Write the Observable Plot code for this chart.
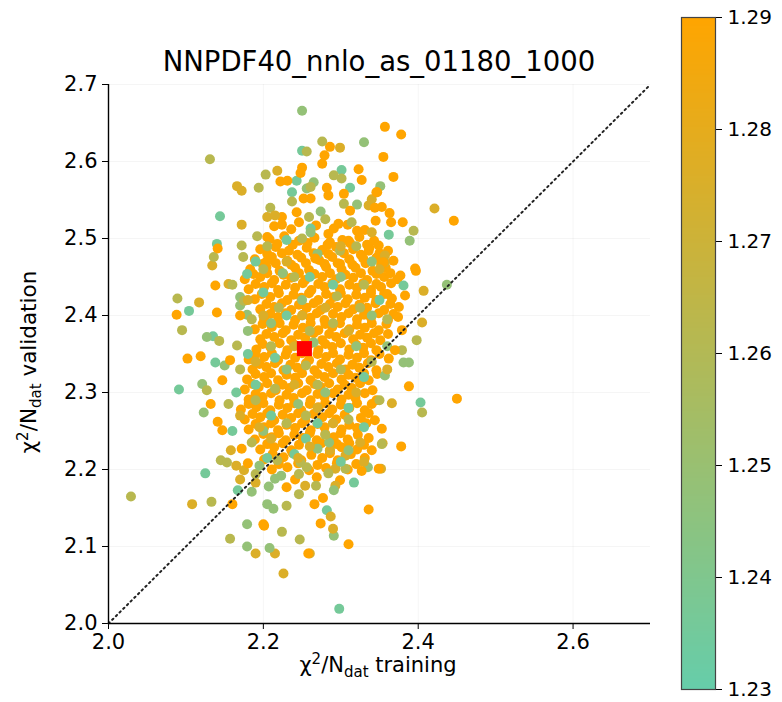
<!DOCTYPE html>
<html><head><meta charset="utf-8">
<script src="https://cdn.jsdelivr.net/npm/d3@7"></script>
<script src="https://cdn.jsdelivr.net/npm/@observablehq/plot@0.6"></script>
<style>
body{margin:0;background:#fff;}
#fig{position:relative;width:782px;height:702px;font-family:"DejaVu Sans",sans-serif;background:#fff;}
#main{position:absolute;left:0;top:0;}
#cbar{position:absolute;left:670px;top:0;}
</style></head><body><div id="fig"><div id="main"></div><div id="cbar"></div></div>
<script>
const title = "NNPDF40_nnlo_as_01180_1000";
const xLabelParts = ["χ", "2", "/N", "dat", " training"];
const yLabelParts = ["χ", "2", "/N", "dat", " validation"];
const xTicks = [2.0, 2.2, 2.4, 2.6];
const yTicks = [2.0, 2.1, 2.2, 2.3, 2.4, 2.5, 2.6, 2.7];
const colorTicks = [1.23, 1.24, 1.25, 1.26, 1.27, 1.28, 1.29];
const colorDomain = [1.23, 1.29];
const diagonal = [2.0, 2.7];
const meanPoint = [2.253, 2.357];
// colour value of each group (order: teal, green, olive, gold, orange)
const colorLevels = [1.236, 1.248, 1.262, 1.276, 1.292];

const tealPts = [
[2.250,2.614],[2.301,2.589],[2.243,2.575],[2.237,2.560],[2.312,2.566],[2.261,2.513],[2.144,2.529],[2.140,2.493],
[2.179,2.454],[2.230,2.498],[2.362,2.505],[2.104,2.406],[2.135,2.373],[2.138,2.339],[2.091,2.304],[2.125,2.195],
[2.167,2.173],[2.317,2.183],[2.282,2.147],[2.298,2.019],[2.403,2.287],[2.381,2.439],
[2.200,2.430],[2.230,2.400],[2.180,2.350],[2.210,2.270],[2.330,2.320],[2.270,2.260],[2.240,2.220],[2.190,2.310],
[2.350,2.420],[2.160,2.250],[2.290,2.440],[2.310,2.280],[2.260,2.450],[2.205,2.215],[2.255,2.240],[2.300,2.210],
[2.330,2.255],[2.165,2.300],[2.190,2.470],[2.215,2.345]
];
const greenPts = [
[2.250,2.666],[2.330,2.625],[2.265,2.573],[2.256,2.565],[2.274,2.535],[2.321,2.544],[2.351,2.568],[2.261,2.508],
[2.389,2.497],[2.437,2.440],[2.381,2.339],[2.388,2.339],[2.357,2.322],[2.291,2.114],[2.179,2.129],[2.179,2.100],
[2.205,2.155],[2.213,2.149],[2.207,2.178],[2.215,2.188],[2.223,2.192],[2.185,2.171],[2.291,2.173],[2.335,2.203],
[2.127,2.372],[2.121,2.311],[2.179,2.401],[2.170,2.424],[2.170,2.413],[2.123,2.274],[2.270,2.227],[2.208,2.098],
[2.210,2.390],[2.250,2.420],[2.280,2.300],[2.320,2.360],[2.200,2.250],[2.340,2.400],[2.270,2.480],[2.230,2.330],
[2.300,2.450],[2.180,2.380],[2.360,2.360],[2.245,2.285],[2.310,2.225],[2.195,2.205],[2.285,2.235],[2.150,2.335],
[2.340,2.470],[2.225,2.455],[2.265,2.365]
];
const olivePts = [
[2.131,2.603],[2.276,2.626],[2.256,2.613],[2.203,2.583],[2.194,2.566],[2.261,2.567],[2.291,2.582],[2.301,2.578],
[2.237,2.548],[2.304,2.545],[2.209,2.540],[2.259,2.528],[2.280,2.525],[2.192,2.503],[2.172,2.491],[2.136,2.476],
[2.174,2.476],[2.314,2.521],[2.394,2.510],[2.299,2.484],[2.398,2.368],[2.379,2.355],[2.405,2.274],[2.306,2.201],
[2.284,2.195],[2.268,2.179],[2.246,2.168],[2.230,2.153],[2.224,2.119],[2.247,2.109],[2.157,2.110],[2.133,2.158],
[2.145,2.212],[2.153,2.209],[2.029,2.165],[2.089,2.422],[2.095,2.381],[2.143,2.367],[2.127,2.303],[2.166,2.361],
[2.175,2.419],[2.190,2.194],[2.246,2.194],[2.248,2.209],[2.256,2.203],[2.218,2.212],[2.353,2.233],
[2.220,2.410],[2.260,2.380],[2.300,2.330],[2.190,2.290],[2.240,2.450],[2.330,2.440],[2.270,2.310],[2.210,2.360],
[2.350,2.290],[2.170,2.330],[2.230,2.260],[2.290,2.390],[2.320,2.490],[2.250,2.500],[2.200,2.460],[2.160,2.440],
[2.340,2.340],[2.280,2.245],[2.310,2.265],[2.185,2.235],[2.215,2.305],[2.255,2.335],[2.295,2.425],[2.360,2.395],
[2.325,2.410],[2.185,2.395],[2.155,2.285],[2.205,2.490],[2.255,2.270]
];
const goldPts = [
[2.218,2.588],[2.299,2.618],[2.166,2.568],[2.172,2.562],[2.205,2.528],[2.172,2.518],[2.134,2.465],[2.336,2.543],
[2.340,2.551],[2.421,2.539],[2.340,2.508],[2.357,2.478],[2.357,2.469],[2.407,2.432],[2.405,2.391],[2.366,2.286],
[2.354,2.234],[2.352,2.201],[2.306,2.218],[2.293,2.201],[2.286,2.225],[2.293,2.179],[2.287,2.139],[2.290,2.123],
[2.254,2.179],[2.260,2.091],[2.226,2.065],[2.215,2.091],[2.190,2.091],[2.108,2.155],[2.170,2.187],[2.190,2.183],
[2.158,2.225],[2.165,2.205],[2.175,2.199],[2.117,2.417],[2.155,2.441],
[2.200,2.400],[2.240,2.360],[2.280,2.410],[2.320,2.300],[2.260,2.230],[2.190,2.340],[2.310,2.380],[2.350,2.460],
[2.230,2.470],[2.270,2.280],[2.210,2.240],[2.330,2.210],[2.170,2.270],[2.290,2.260],[2.240,2.310],[2.360,2.330],
[2.300,2.490],[2.180,2.420],[2.250,2.400],[2.215,2.530],[2.325,2.235],[2.245,2.215],[2.195,2.255]
];
const orangeSparse = [
[2.286,2.619],[2.279,2.608],[2.276,2.597],[2.250,2.592],[2.248,2.585],[2.222,2.574],[2.231,2.575],[2.323,2.590],
[2.327,2.576],[2.282,2.566],[2.284,2.556],[2.252,2.552],[2.261,2.552],[2.304,2.558],[2.344,2.540],[2.347,2.560],
[2.141,2.487],[2.204,2.470],[2.224,2.528],[2.224,2.518],[2.243,2.534],[2.246,2.521],[2.284,2.506],[2.297,2.519],
[2.205,2.502],[2.357,2.645],[2.378,2.635],[2.355,2.606],[2.368,2.580],[2.346,2.560],[2.353,2.541],[2.363,2.533],
[2.312,2.536],[2.446,2.523],[2.345,2.523],[2.365,2.521],[2.380,2.521],[2.286,2.495],[2.310,2.497],[2.321,2.510],
[2.349,2.491],[2.336,2.484],[2.329,2.474],[2.355,2.469],[2.396,2.461],[2.267,2.474],[2.299,2.467],[2.397,2.458],
[2.377,2.452],[2.383,2.426],[2.360,2.428],[2.366,2.422],[2.375,2.411],[2.379,2.381],[2.370,2.355],[2.362,2.344],
[2.388,2.308],[2.450,2.292],[2.353,2.253],[2.378,2.230],[2.340,2.225],[2.349,2.201],[2.327,2.198],[2.336,2.148],
[2.310,2.103],[2.277,2.163],[2.266,2.155],[2.274,2.130],[2.230,2.177],[2.201,2.127],[2.160,2.155],[2.172,2.227],
[2.180,2.208],[2.088,2.401],[2.102,2.344],[2.119,2.347],[2.138,2.439],[2.140,2.404],[2.170,2.400],[2.157,2.342],
[2.147,2.316],[2.132,2.285],[2.141,2.262],[2.258,2.091],[2.200,2.129],[2.147,2.251]
];
const orangeCore = [
[2.214,2.516],[2.236,2.512],[2.268,2.517],[2.291,2.513],[2.309,2.518],[2.331,2.511],
[2.208,2.499],[2.227,2.503],[2.246,2.497],[2.266,2.501],[2.302,2.498],[2.324,2.502],[2.343,2.497],
[2.196,2.486],[2.216,2.489],[2.233,2.484],[2.256,2.488],[2.276,2.485],[2.294,2.489],[2.316,2.486],[2.337,2.488],[2.361,2.484],
[2.189,2.473],[2.211,2.476],[2.231,2.471],[2.249,2.475],[2.272,2.472],[2.289,2.476],[2.311,2.473],[2.346,2.475],[2.368,2.471],
[2.183,2.460],[2.204,2.463],[2.221,2.458],[2.241,2.462],[2.259,2.459],[2.281,2.463],[2.301,2.460],[2.319,2.462],[2.341,2.458],[2.358,2.462],
[2.176,2.447],[2.196,2.450],[2.214,2.446],[2.236,2.449],[2.254,2.446],[2.276,2.450],[2.294,2.447],[2.316,2.449],[2.334,2.446],[2.356,2.450],[2.373,2.447],
[2.181,2.434],[2.201,2.437],[2.219,2.433],[2.241,2.436],[2.262,2.433],[2.279,2.437],[2.299,2.434],[2.321,2.436],[2.339,2.433],[2.352,2.437],
[2.189,2.421],[2.209,2.424],[2.231,2.420],[2.249,2.423],[2.271,2.420],[2.291,2.424],[2.309,2.421],[2.331,2.423],[2.346,2.420],
[2.196,2.408],[2.214,2.411],[2.236,2.407],[2.256,2.410],[2.274,2.407],[2.296,2.411],[2.316,2.408],[2.334,2.410],[2.356,2.407],
[2.201,2.395],[2.219,2.398],[2.241,2.394],[2.261,2.397],[2.279,2.394],[2.301,2.398],[2.321,2.395],[2.339,2.397],[2.361,2.394],[2.374,2.398],
[2.189,2.382],[2.211,2.385],[2.229,2.381],[2.251,2.384],[2.271,2.381],[2.289,2.385],[2.311,2.382],[2.331,2.384],[2.349,2.381],
[2.196,2.369],[2.214,2.372],[2.236,2.368],[2.254,2.371],[2.276,2.368],[2.294,2.372],[2.316,2.369],[2.334,2.371],[2.351,2.368],
[2.191,2.356],[2.209,2.359],[2.231,2.355],[2.249,2.358],[2.271,2.355],[2.289,2.359],[2.311,2.356],[2.329,2.358],[2.346,2.355],
[2.181,2.343],[2.201,2.346],[2.219,2.342],[2.241,2.345],[2.259,2.342],[2.281,2.346],[2.299,2.343],[2.321,2.345],[2.339,2.342],
[2.186,2.330],[2.204,2.333],[2.226,2.329],[2.244,2.332],[2.266,2.329],[2.284,2.333],[2.306,2.330],[2.324,2.332],[2.346,2.329],
[2.179,2.317],[2.201,2.320],[2.219,2.316],[2.241,2.319],[2.261,2.316],[2.279,2.320],[2.301,2.317],[2.319,2.319],[2.336,2.316],
[2.176,2.304],[2.194,2.307],[2.216,2.303],[2.234,2.306],[2.256,2.303],[2.274,2.307],[2.296,2.304],[2.314,2.306],[2.341,2.303],
[2.181,2.291],[2.199,2.294],[2.221,2.290],[2.239,2.293],[2.261,2.290],[2.279,2.294],[2.301,2.291],[2.319,2.293],[2.346,2.290],
[2.171,2.278],[2.191,2.281],[2.209,2.277],[2.231,2.280],[2.249,2.277],[2.271,2.281],[2.289,2.278],[2.311,2.280],[2.331,2.277],
[2.176,2.265],[2.196,2.268],[2.214,2.264],[2.236,2.267],[2.254,2.264],[2.276,2.268],[2.294,2.265],[2.326,2.267],[2.344,2.264],
[2.181,2.252],[2.201,2.255],[2.219,2.251],[2.241,2.254],[2.261,2.251],[2.279,2.255],[2.301,2.252],[2.321,2.254],
[2.189,2.239],[2.211,2.242],[2.229,2.238],[2.251,2.241],[2.269,2.238],[2.291,2.242],[2.309,2.239],[2.336,2.241],
[2.196,2.226],[2.214,2.229],[2.236,2.225],[2.264,2.228],[2.286,2.225],[2.301,2.229],[2.321,2.226],
[2.201,2.213],[2.226,2.216],[2.249,2.212],[2.276,2.215],[2.296,2.212],[2.331,2.215],
[2.211,2.200],[2.231,2.203],[2.259,2.199],[2.281,2.202],[2.309,2.200],
[2.241,2.187],[2.269,2.190],[2.299,2.186]
];
const orangeCoreB = [
[2.218,2.493],[2.238,2.492],[2.257,2.494],[2.283,2.492],[2.312,2.494],[2.334,2.492],
[2.205,2.480],[2.224,2.481],[2.244,2.479],[2.265,2.481],[2.284,2.480],[2.304,2.481],[2.326,2.479],[2.350,2.481],
[2.199,2.467],[2.216,2.468],[2.236,2.466],[2.255,2.468],[2.279,2.467],[2.296,2.468],[2.315,2.466],[2.332,2.468],[2.352,2.467],
[2.187,2.454],[2.205,2.455],[2.226,2.453],[2.246,2.455],[2.266,2.454],[2.286,2.455],[2.306,2.453],[2.326,2.455],[2.346,2.454],[2.364,2.455],
[2.190,2.441],[2.211,2.442],[2.229,2.440],[2.251,2.442],[2.271,2.441],[2.289,2.442],[2.311,2.440],[2.329,2.442],[2.346,2.441],[2.365,2.442],
[2.198,2.428],[2.220,2.429],[2.239,2.427],[2.259,2.429],[2.281,2.428],[2.300,2.429],[2.320,2.427],[2.339,2.429],[2.356,2.428],
[2.204,2.415],[2.224,2.416],[2.246,2.414],[2.265,2.416],[2.286,2.415],[2.306,2.416],[2.324,2.414],[2.345,2.416],[2.364,2.415],
[2.209,2.402],[2.229,2.403],[2.251,2.401],[2.269,2.403],[2.290,2.402],[2.310,2.403],[2.330,2.401],[2.349,2.403],[2.368,2.402],
[2.199,2.389],[2.221,2.390],[2.239,2.388],[2.261,2.390],[2.280,2.389],[2.299,2.390],[2.321,2.388],[2.340,2.390],[2.359,2.389],
[2.204,2.376],[2.225,2.377],[2.245,2.375],[2.265,2.377],[2.285,2.376],[2.305,2.377],[2.325,2.375],[2.343,2.377],[2.361,2.376],
[2.199,2.363],[2.221,2.364],[2.240,2.362],[2.261,2.364],[2.280,2.363],[2.300,2.364],[2.320,2.362],[2.339,2.364],
[2.190,2.350],[2.211,2.351],[2.229,2.349],[2.250,2.351],[2.270,2.350],[2.290,2.351],[2.310,2.349],[2.330,2.351],[2.350,2.350],
[2.195,2.337],[2.215,2.338],[2.235,2.336],[2.255,2.338],[2.275,2.337],[2.295,2.338],[2.315,2.336],[2.335,2.338],
[2.190,2.324],[2.210,2.325],[2.230,2.323],[2.250,2.325],[2.270,2.324],[2.290,2.325],[2.310,2.323],[2.330,2.325],[2.347,2.324],
[2.186,2.311],[2.205,2.312],[2.225,2.310],[2.245,2.312],[2.266,2.311],[2.285,2.312],[2.305,2.310],[2.325,2.312],
[2.190,2.298],[2.210,2.299],[2.230,2.297],[2.250,2.299],[2.270,2.298],[2.290,2.299],[2.310,2.297],[2.331,2.299],
[2.181,2.285],[2.200,2.286],[2.220,2.284],[2.240,2.286],[2.260,2.285],[2.280,2.286],[2.300,2.284],[2.321,2.286],[2.340,2.285],
[2.186,2.272],[2.205,2.273],[2.225,2.271],[2.245,2.273],[2.265,2.272],[2.285,2.273],[2.305,2.271],[2.336,2.273],
[2.190,2.259],[2.210,2.260],[2.230,2.258],[2.250,2.260],[2.270,2.259],[2.290,2.260],[2.311,2.258],[2.333,2.260],
[2.200,2.246],[2.220,2.247],[2.240,2.245],[2.260,2.247],[2.280,2.246],[2.300,2.247],[2.322,2.245],
[2.205,2.233],[2.225,2.234],[2.246,2.232],[2.275,2.234],[2.295,2.233],[2.311,2.234],[2.330,2.232],
[2.212,2.220],[2.238,2.221],[2.262,2.219],[2.286,2.221],[2.313,2.220],
[2.220,2.207],[2.245,2.208],[2.270,2.206],[2.295,2.208],[2.320,2.207]
];

// orange core first, then the remaining groups interleaved so colours mix in drawing order
const points = [];
for (const p of orangeCore.concat(orangeCoreB)) points.push({x: p[0], y: p[1], c: colorLevels[4]});
const groups = [
  {pts: tealPts, c: colorLevels[0]},
  {pts: greenPts, c: colorLevels[1]},
  {pts: olivePts, c: colorLevels[2]},
  {pts: goldPts, c: colorLevels[3]},
  {pts: orangeSparse, c: colorLevels[4]}
];
const maxLen = d3.max(groups, g => g.pts.length);
for (let i = 0; i < maxLen; i++) {
  for (const g of groups) {
    if (i < g.pts.length) points.push({x: g.pts[i][0], y: g.pts[i][1], c: g.c});
  }
}

const colorScale = {type: "linear", domain: colorDomain, range: ["#66cdaa", "#ffa500"], interpolate: "rgb", clamp: true};
const FONT = "DejaVu Sans, sans-serif";

const main = Plot.plot({
  width: 670, height: 702,
  marginLeft: 108, marginRight: 20, marginTop: 84, marginBottom: 79,
  style: {fontFamily: FONT, fontSize: "21px", color: "#000", background: "#fff", overflow: "visible"},
  x: {domain: [2.0, 2.7], ticks: xTicks, tickFormat: ".1f", tickSize: 6, tickPadding: 5, label: null},
  y: {domain: [2.0, 2.7], ticks: yTicks, tickFormat: ".1f", tickSize: 6, tickPadding: 5, label: null},
  color: colorScale,
  marks: [
    Plot.gridX(xTicks, {stroke: "#000", strokeOpacity: 0.04, strokeWidth: 1}),
    Plot.gridY(yTicks, {stroke: "#000", strokeOpacity: 0.04, strokeWidth: 1}),
    Plot.dot(points, {x: "x", y: "y", fill: "c", r: 5}),
    Plot.line(diagonal, {x: d => d, y: d => d, stroke: "#222", strokeWidth: 2, strokeDasharray: "1.6,3.6"}),
    Plot.dot([meanPoint], {x: d => d[0], y: d => d[1], symbol: "square", r: 8.5, fill: "#ff0000"}),
    Plot.ruleX([2.0], {stroke: "#000", strokeWidth: 1.4}),
    Plot.ruleY([2.0], {stroke: "#000", strokeWidth: 1.4})
  ]
});
document.getElementById("main").appendChild(main);

const svg = d3.select(main);
svg.append("text").attr("x", 379).attr("y", 71).attr("text-anchor", "middle")
  .attr("font-size", 27.5).attr("fill", "#000").text(title);

function addLabel(parts, sel) {
  sel.append("tspan").text(parts[0]);
  sel.append("tspan").attr("dy", -8).attr("font-size", 15).text(parts[1]);
  sel.append("tspan").attr("dy", 8).text(parts[2]);
  sel.append("tspan").attr("dy", 5).attr("font-size", 15).text(parts[3]);
  sel.append("tspan").attr("dy", -5).text(parts[4]);
}
const xl = svg.append("text").attr("x", 378).attr("y", 672).attr("text-anchor", "middle")
  .attr("font-size", 21).attr("fill", "#000");
addLabel(xLabelParts, xl);
const yl = svg.append("text").attr("transform", "translate(36,362) rotate(-90)").attr("text-anchor", "middle")
  .attr("font-size", 21.5).attr("fill", "#000");
addLabel(yLabelParts, yl);

// colour bar
const step = 0.0002;
const cbarSteps = d3.range(colorDomain[0], colorDomain[1], step);
const cbar = Plot.plot({
  width: 112, height: 702,
  marginLeft: 11, marginRight: 67, marginTop: 17, marginBottom: 13,
  style: {fontFamily: FONT, fontSize: "20px", color: "#000", background: "#fff", overflow: "visible"},
  x: {axis: null, domain: [0, 1]},
  y: {domain: colorDomain, ticks: colorTicks, tickFormat: ".2f", axis: "right", tickSize: 6, tickPadding: 6, label: null},
  color: colorScale,
  marks: [
    Plot.rect(cbarSteps, {x1: 0, x2: 1, y1: d => d, y2: d => Math.min(d + step * 1.6, colorDomain[1]), fill: d => d + step / 2, shapeRendering: "crispEdges"}),
    Plot.frame({stroke: "#444", strokeWidth: 1.2})
  ]
});
document.getElementById("cbar").appendChild(cbar);
</script></body></html>
